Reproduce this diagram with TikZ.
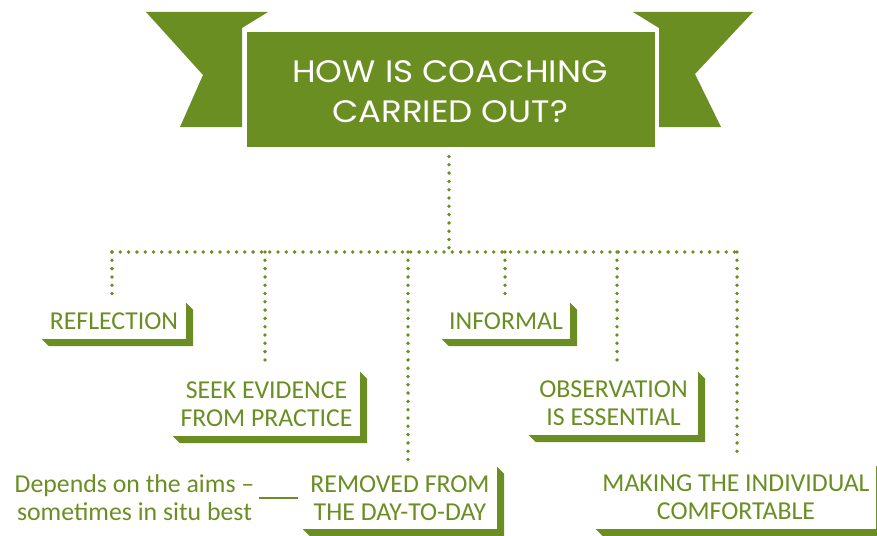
\documentclass[tikz,border=0pt]{standalone}
\usepackage{fontspec}
\setmainfont{Carlito}
\newfontfamily\titlefont[FakeStretch=1.1]{Poppins}
\definecolor{leafgreen}{HTML}{6B8E23}
\begin{document}
\begin{tikzpicture}[x=1pt,y=-1pt,
  lbl/.style={font=\fontsize{25.8}{28}\selectfont, text=leafgreen, align=center, inner sep=0pt},
  card/.style={lbl, fill=white},
  dotline/.style={leafgreen, line width=3.8pt, line cap=round, dash pattern=on 0pt off 8.3pt},
  tail/.style={fill=leafgreen}]
\useasboundingbox (0,0) rectangle (877,535);
\clip (0,0) rectangle (877,535);
\newcommand\cardshade[1]{\fill[leafgreen] (#1.south west) -- (#1.south east) -- (#1.north east)
  -- ([shift={(7,7)}]#1.north east) -- ([shift={(7,7)}]#1.south east) -- ([shift={(7,7)}]#1.south west) -- cycle;}
% banner tails
\fill[tail] (146,12) -- (268,12) -- (242,28) -- (242,127) -- (180,127) -- (203,75) -- cycle;
\fill[tail] (753,12) -- (633,12) -- (659,28) -- (659,127) -- (721,127) -- (695,74) -- cycle;
% title
\node[fill=leafgreen, draw=white, line width=3pt, minimum width=411pt, minimum height=117pt] (title) at (450.5,89.5) {};
\node[text=white, align=center, inner sep=0pt, font=\titlefont\fontsize{31}{40}\selectfont] (titletext) at (450,92)
  {HOW IS COACHING\\CARRIED OUT?};
% cards
\node[card, minimum width=144pt, minimum height=36pt] (refl) at (114,321) {REFLECTION};
\node[card, minimum width=187pt, minimum height=64pt] (seek) at (266.5,404) {SEEK EVIDENCE\\FROM PRACTICE};
\node[card, minimum width=194pt, minimum height=62pt] (rem) at (400,498) {REMOVED FROM\\THE DAY-TO-DAY};
\node[card, minimum width=128pt, minimum height=36pt] (info) at (506,321) {INFORMAL};
\node[card, minimum width=169pt, minimum height=63pt] (obs) at (613.5,403.5) {OBSERVATION\\IS ESSENTIAL};
\node[card, minimum width=280pt, minimum height=63pt] (make) at (736,497.5) {MAKING THE INDIVIDUAL\\COMFORTABLE};
\foreach \n in {refl,seek,rem,info,obs,make} {\cardshade{\n}}
% side note
\node[lbl] (dep) at (134.5,498) {Depends on the aims --\\sometimes in situ best};
\draw[leafgreen, line width=2pt, shorten <=4pt, shorten >=5pt] (dep.east) -- (dep.east -| rem.west);
% dotted tree
\coordinate (hub) at (449,252);
\coordinate (dl) at (112,252);
\coordinate (dr) at (737,252);
\coordinate (d1) at (112,252);
\coordinate (d2) at (265,252);
\coordinate (d3) at (408,252);
\coordinate (d4) at (505,252);
\coordinate (d5) at (617,252);
\coordinate (d6) at (737,252);
\draw[dotline, shorten <=7pt] (title.south -| hub) -- (hub);
\draw[dotline] (dl) -- (dr);
\draw[dotline, shorten >=7pt] (d1) -- (d1 |- refl.north);
\draw[dotline, shorten >=6pt] (d2) -- (d2 |- seek.north);
\draw[dotline, shorten >=7pt] (d3) -- (d3 |- rem.north);
\draw[dotline, shorten >=7pt] (d4) -- (d4 |- info.north);
\draw[dotline, shorten >=6pt] (d5) -- (d5 |- obs.north);
\draw[dotline, shorten >=7pt] (d6) -- (d6 |- make.north);
\end{tikzpicture}
\end{document}
